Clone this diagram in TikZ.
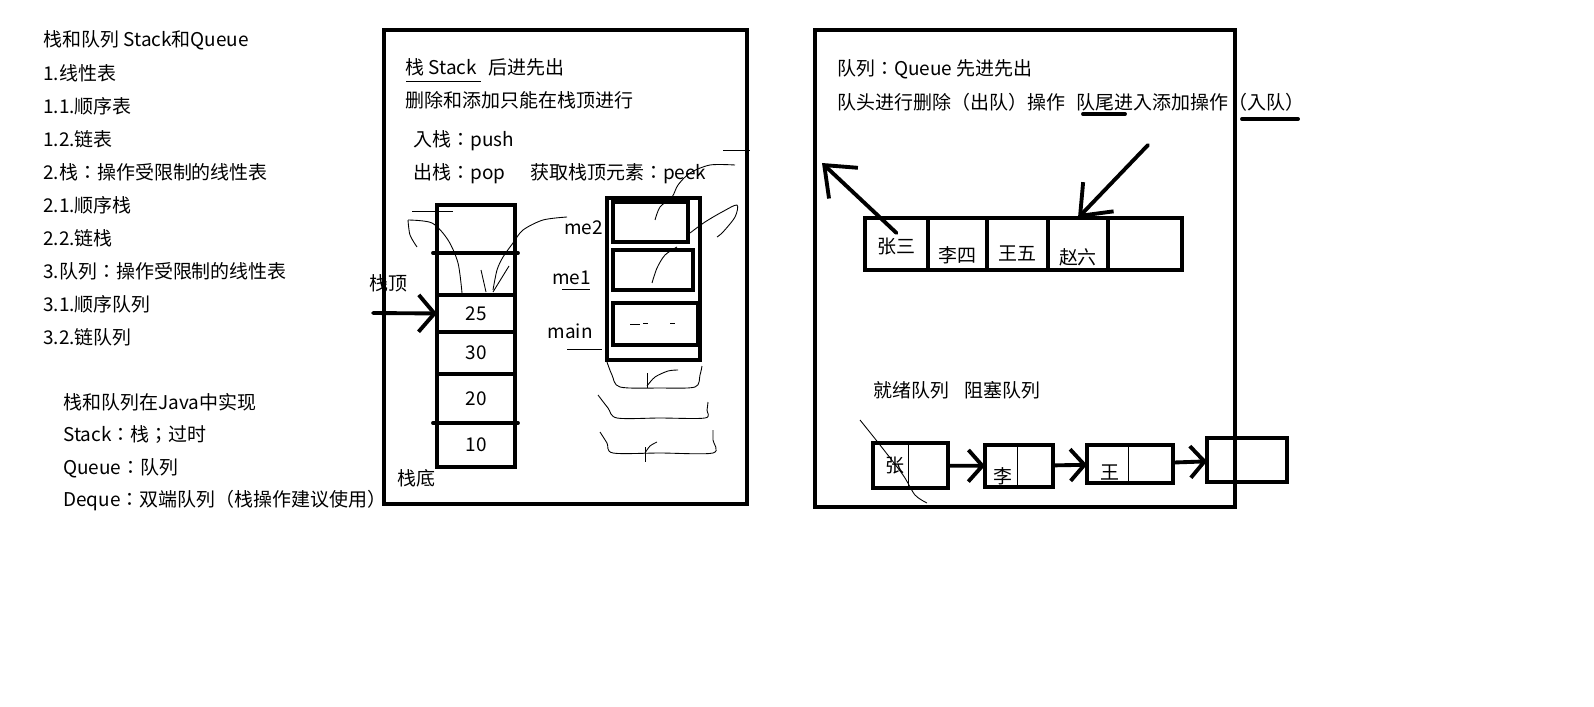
\documentclass[tikz,border=0pt]{standalone}
\usepackage{fontspec}
\setmainfont{Noto Sans CJK TC}
\usetikzlibrary{arrows.meta,positioning}

\begin{document}
\begin{tikzpicture}[x=0.02cm, y=-0.02cm, node distance=0.66cm,
    every node/.style={font=\fontsize{10.8}{13}\selectfont, inner sep=0pt},
    txt/.style={anchor=west},
    listbelow/.style={below=of #1.west, anchor=west},
    heavy/.style={line width=2.2pt, line cap=round},
    scribble/.style={line width=0.5pt},
    cell/.style={draw, line width=2.2pt, minimum width=1.56cm, outer sep=0pt},
    slot/.style={draw, line width=2.2pt, minimum height=1.04cm, outer sep=0pt},
    lnode/.style={draw, line width=2.2pt, outer sep=0pt},
    bigarrow/.style={heavy, -{Straight Barb[length=15pt, width=24pt]}},
    link/.style={heavy, -{Straight Barb[length=8pt, width=18pt]}}]
  \fill[white] (0,0) rectangle (1594,706);
  \useasboundingbox (0,0) rectangle (1594,706);

  \begin{scope}[every node/.append style={txt}]
    \node (l1) at (43,40) {栈和队列 Stack和Queue};
    \node (l2) [listbelow=l1] {1.线性表};
    \node (l3) [listbelow=l2] {1.1.顺序表};
    \node (l4) [listbelow=l3] {1.2.链表};
    \node (l5) [listbelow=l4] {2.栈：操作受限制的线性表};
    \node (l6) [listbelow=l5] {2.1.顺序栈};
    \node (l7) [listbelow=l6] {2.2.链栈};
    \node (l8) [listbelow=l7] {3.队列：操作受限制的线性表};
    \node (l9) [listbelow=l8] {3.1.顺序队列};
    \node (l10) [listbelow=l9] {3.2.链队列};
    \node (j1) at (63,402) {栈和队列在Java中实现};
    \node (j2) [listbelow=j1] {Stack：栈；过时};
    \node (j3) [listbelow=j2] {Queue：队列};
    \node (j4) [listbelow=j3] {Deque：双端队列（栈操作建议使用）};
  \end{scope}

  \draw[heavy] (384,30) rectangle (747,504);
  \begin{scope}[every node/.append style={txt}]
    \node (stitle) at (405,67) {栈 Stack\hspace{0.6em}后进先出};
    \node (srule) [listbelow=stitle] {删除和添加只能在栈顶进行};
    \node (spush) at (413,141) {入栈：push};
    \node (spop) [listbelow=spush] {出栈：pop};
    \node (speek) at (530,174) {获取栈顶元素：peek};
  \end{scope}
  \draw[scribble] (406,81) -- (481,81);

  \node[cell, minimum height=0.96cm] (c6) at (476,229) {};
  \node[cell, minimum height=0.84cm, below=0pt of c6] (c5) {};
  \node[cell, minimum height=0.74cm, below=0pt of c5] (c4) {25};
  \node[cell, minimum height=0.84cm, below=0pt of c4] (c3) {30};
  \node[cell, minimum height=0.98cm, below=0pt of c3] (c2) {20};
  \node[cell, minimum height=0.88cm, below=0pt of c2] (c1) {10};
  \draw[heavy] ([xshift=-0.08cm]c6.south west) -- ([xshift=0.06cm]c6.south east);
  \draw[heavy] ([xshift=-0.08cm]c1.north west) -- ([xshift=0.06cm]c1.north east);
  \node (top) at (388,283) {栈顶};
  \node (bottom) at (416,478) {栈底};
  \coordinate (pushin) at (373,313);
  \draw[heavy, -{Straight Barb[length=9pt, width=21pt]}] (pushin) -- (c4.west);

  \node[lnode, minimum width=1.86cm, minimum height=3.24cm] (fstack) at (653.5,279) {};
  \node[lnode, minimum width=1.5cm, minimum height=0.8cm] (fme2) at (650.5,222) {};
  \node[lnode, minimum width=1.6cm, minimum height=0.8cm] (fme1) at (653,270) {};
  \node[lnode, minimum width=1.7cm, minimum height=0.84cm] (fmain) at (655.5,324) {};
  \node[anchor=east] (me2) at (603,228) {me2};
  \node[anchor=east] (me1) at (591,278) {me1};
  \node[anchor=east] (mmain) at (593,331) {main};
  \draw[scribble] (562,289) -- (590,289);
  \draw[scribble] (567,349) -- (602,349);

  \draw[scribble] (412,211) -- (453,211);
  \draw[scribble] plot[smooth] coordinates {(408,220) (410,235) (417,247)};
  \draw[scribble] plot[smooth] coordinates {(408,220) (432,223) (448,240) (458,263) (462,293)};
  \draw[scribble] plot[smooth] coordinates {(567,217) (543,220) (523,230) (513,243) (503,257) (497,270) (493,290)};
  \draw[scribble] (481,270) -- (486,292);
  \draw[scribble] (509,266) -- (493,292);
  \draw[scribble] (723,150) -- (750,150);
  \draw[scribble] plot[smooth] coordinates {(735,165) (710,165) (690,173) (678,185) (672,197) (660,207) (655,220)};
  \draw[scribble] plot[smooth] coordinates {(690,233) (705,222) (722,212) (737,205) (735,217) (723,232) (717,237)};
  \draw[scribble] plot[smooth] coordinates {(677,247) (665,255) (657,268) (652,283)};
  \draw[scribble] (630,324) -- (640,324);
  \draw[scribble] (643,323) -- (648,323);
  \draw[scribble] (670,323) -- (675,323);
  \draw[scribble] plot[smooth] coordinates {(607,362) (612,375) (620,387) (660,388) (695,387) (700,375) (702,366)};
  \draw[scribble] (647,373) -- (647,388);
  \draw[scribble] plot[smooth] coordinates {(647,386) (655,377) (668,371) (678,370)};
  \draw[scribble] plot[smooth] coordinates {(598,395) (608,408) (617,418) (660,418) (705,418) (707,410) (708,402)};
  \draw[scribble] plot[smooth] coordinates {(600,432) (607,443) (613,453) (660,453) (713,453) (713,440) (713,430)};
  \draw[scribble] (645,447) -- (645,462);
  \draw[scribble] plot[smooth] coordinates {(645,453) (650,446) (657,442)};

  \draw[heavy] (815,30) rectangle (1235,507);
  \begin{scope}[every node/.append style={txt}]
    \node (qtitle) at (837,69) {队列：Queue 先进先出};
    \node (qrule) [listbelow=qtitle] {队头进行删除（出队）操作\hspace{0.6em}队尾进入添加操作（入队）};
    \node (qkinds) at (873,390) {就绪队列\hspace{0.8em}阻塞队列};
  \end{scope}
  \draw[heavy] (1083,114) -- (1125,114);
  \draw[heavy] (1242,119) -- (1298,119);

  \node[slot, minimum width=1.26cm, label={[anchor=center, yshift=-0.06cm]center:张三}] (q1) at (896.5,244) {};
  \node[slot, minimum width=1.18cm, right=0pt of q1, label={[anchor=center, yshift=-0.22cm]center:李四}] (q2) {};
  \node[slot, minimum width=1.22cm, right=0pt of q2, label={[anchor=center, yshift=-0.18cm]center:王五}] (q3) {};
  \node[slot, minimum width=1.2cm, right=0pt of q3, label={[anchor=center, yshift=-0.26cm]center:赵六}] (q4) {};
  \node[slot, minimum width=1.48cm, right=0pt of q4] (q5) {};
  \coordinate (qout) at (822,163);
  \coordinate (qin) at (1148,145);
  \draw[bigarrow] ([yshift=0.22cm]q1.center) -- (qout);
  \draw[bigarrow] (qin) -- (q4.north);

  \node[lnode, minimum width=1.5cm, minimum height=0.9cm, label={[anchor=center, xshift=-0.31cm]center:张}] (b1) at (910.5,465.5) {};
  \node[lnode, minimum width=1.36cm, minimum height=0.84cm, label={[anchor=center, xshift=-0.32cm, yshift=-0.2cm]center:李}] (b2) at (1019,466) {};
  \node[lnode, minimum width=1.72cm, minimum height=0.76cm, label={[anchor=center, xshift=-0.4cm, yshift=-0.16cm]center:王}] (b3) at (1130,464) {};
  \node[lnode, minimum width=1.6cm, minimum height=0.88cm] (b4) at (1247,460) {};
  \path (b1) edge[link] (b2);
  \path (b2) edge[link] (b3);
  \path (b3) edge[link] (b4);
  \draw[scribble] ([xshift=0.7cm]b1.north west) -- ([xshift=0.7cm]b1.south west);
  \draw[scribble] ([xshift=0.64cm]b2.north west) -- ([xshift=0.64cm]b2.south west);
  \draw[scribble] ([xshift=0.82cm]b3.north west) -- ([xshift=0.82cm]b3.south west);
  \draw[scribble] plot[smooth] coordinates {(860,420) (880,445) (903,475) (915,495) (927,503)};
\end{tikzpicture}
\end{document}
